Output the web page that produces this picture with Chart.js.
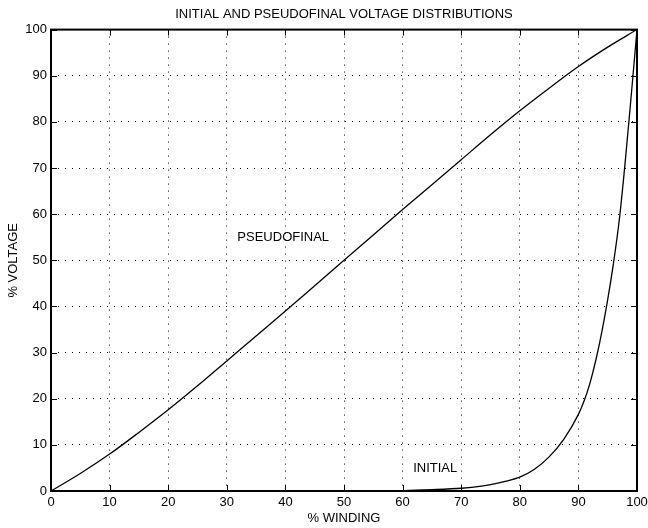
<!DOCTYPE html>
<html>
<head>
<meta charset="utf-8">
<script src="https://cdn.jsdelivr.net/npm/chart.js@4.4.1/dist/chart.umd.min.js"></script>
<style>
  html, body { margin: 0; padding: 0; background: #fff; }
  #wrap { width: 648px; height: 528px; }
</style>
</head>
<body>
<div id="wrap"><canvas id="voltChart" width="648" height="528"></canvas></div>
<script>
// values
const windingPts = [0, 5, 10, 15, 20, 25, 30, 35, 40, 45, 50, 55, 60, 65, 70, 75, 80, 85, 90, 95, 100]
const pseudofinal = [0, 3.8, 8.0, 12.7, 17.6, 22.8, 28.2, 33.6, 39.0, 44.5, 50.0, 55.5, 61.0, 66.4, 71.8, 77.2, 82.4, 87.3, 92.0, 96.2, 100]

const initialX = [0, 50, 60, 65, 70, 72.5, 75, 77.5, 80, 82.5, 85, 87.5, 90, 91, 92, 93, 94, 95, 96, 97, 98, 99, 100]
const initialV = [0, 0, 0.1, 0.3, 0.6, 0.9, 1.4, 2.1, 3.0, 4.7, 7.4, 11.2, 16.6, 19.6, 23.5, 28.5, 34.5, 41.5, 49.5, 59.0, 71.5, 85.5, 100]

const xTicks = [0, 10, 20, 30, 40, 50, 60, 70, 80, 90, 100]
const yTicks = [0, 10, 20, 30, 40, 50, 60, 70, 80, 90, 100]

const chartTitle = 'INITIAL AND PSEUDOFINAL VOLTAGE DISTRIBUTIONS'
const xTitle = '% WINDING'
const yTitle = '% VOLTAGE'
const curveLabels = [
	{ text: 'PSEUDOFINAL', x: 31.8, y: 55 },
	{ text: 'INITIAL', x: 61.8, y: 5 }
]

const FONT = '"Liberation Sans", Arial, Helvetica, sans-serif'

// box + inward ticks + curve labels
const boxPlugin = {
	id: 'boxPlugin',
	afterDraw(chart) {
		const c = chart.ctx
		const a = chart.chartArea
		const xs = chart.scales.x
		const ys = chart.scales.y
		const len = 6
		c.save()
		c.strokeStyle = '#000'
		c.lineWidth = 1
		c.beginPath()
		xTicks.forEach(v => {
			let px = Math.round(xs.getPixelForValue(v)) + 0.5
			c.moveTo(px, a.bottom); c.lineTo(px, a.bottom - len)
			c.moveTo(px, a.top); c.lineTo(px, a.top + len)
		})
		yTicks.forEach(v => {
			let py = Math.round(ys.getPixelForValue(v)) + 0.5
			c.moveTo(a.left, py); c.lineTo(a.left + len, py)
			c.moveTo(a.right, py); c.lineTo(a.right - len, py)
		})
		c.stroke()
		c.lineWidth = 2
		c.strokeRect(a.left, a.top, a.right - a.left, a.bottom - a.top)

		c.fillStyle = '#000'
		c.font = '13px ' + FONT
		c.textBaseline = 'middle'
		c.textAlign = 'left'
		curveLabels.forEach(l => {
			c.fillText(l.text, xs.getPixelForValue(l.x), ys.getPixelForValue(l.y))
		})
		c.restore()
	}
}

const ctx = document.getElementById('voltChart').getContext('2d')

const chart = new Chart(ctx, {
	type: 'line',
	data: {
		datasets: [{
			label: 'Pseudofinal',
			data: windingPts.map((x, i) => ({ x: x, y: pseudofinal[i] })),
			borderColor: '#000',
			borderWidth: 1.3,
			pointRadius: 0,
			cubicInterpolationMode: 'monotone'
		}, {
			label: 'Initial',
			data: initialX.map((x, i) => ({ x: x, y: initialV[i] })),
			borderColor: '#000',
			borderWidth: 1.3,
			pointRadius: 0,
			cubicInterpolationMode: 'monotone'
		}]
	},
	options: {
		responsive: false,
		animation: false,
		layout: { padding: { left: 0, right: 11, top: 0, bottom: 0 } },
		plugins: {
			legend: { display: false },
			tooltip: { enabled: false },
			title: {
				display: true,
				fullSize: false,
				text: chartTitle,
				color: '#000',
				font: { family: FONT, size: 13, weight: 'normal' },
				padding: { top: 7, bottom: 7 }
			}
		},
		scales: {
			x: {
				type: 'linear',
				min: 0, max: 100,
				afterBuildTicks: s => { s.ticks = xTicks.map(v => ({ value: v })) },
				afterFit: s => { s.height = 37; s.paddingRight = 0; s.paddingLeft = 0 },
				grid: { color: '#000', lineWidth: 1, drawTicks: false },
				border: { display: false, dash: [1, 6] },
				ticks: { color: '#000', padding: 4, maxRotation: 0, font: { family: FONT, size: 13 } },
				title: { display: true, text: xTitle, color: '#000', padding: { top: 0, bottom: 2 }, font: { family: FONT, size: 13 } }
			},
			y: {
				type: 'linear',
				min: 0, max: 100,
				afterBuildTicks: s => { s.ticks = yTicks.map(v => ({ value: v })) },
				afterFit: s => { s.width = 51 },
				grid: { color: '#000', lineWidth: 1, drawTicks: false },
				border: { display: false, dash: [1, 6] },
				ticks: { color: '#000', padding: 4, font: { family: FONT, size: 13 } },
				title: { display: true, text: yTitle, color: '#000', padding: { top: 6, bottom: 0 }, font: { family: FONT, size: 13 } }
			}
		}
	},
	plugins: [boxPlugin]
})
</script>
</body>
</html>
